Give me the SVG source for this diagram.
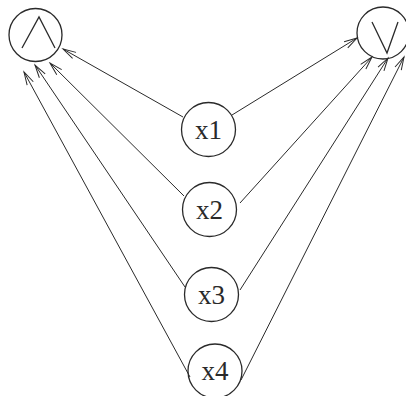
<svg xmlns="http://www.w3.org/2000/svg" width="406" height="396" viewBox="0 0 406 396">
<style>
.node circle{fill:none;stroke:#2a2a2a;stroke-width:1.3}
.sym{fill:none;stroke:#2a2a2a;stroke-width:1.3}
.node text{font-family:"Liberation Serif","Times New Roman",serif;font-size:27px;fill:#2a2a2a;text-anchor:middle}
.edges line{stroke:#2a2a2a;stroke-width:1}
</style>
<defs>
<marker id="arr" markerUnits="userSpaceOnUse" viewBox="-14 -5 16 10" markerWidth="16" markerHeight="10" refX="0" refY="0" orient="auto">
<path d="M-13,-3.5 L0,0 L-13,3.5" fill="none" stroke="#2a2a2a" stroke-width="1"/>
</marker>
</defs>
<rect width="406" height="396" fill="#fff"/>
<g class="edges">
<line x1="183" y1="117" x2="63" y2="49" marker-end="url(#arr)"/>
<line x1="232" y1="115" x2="357" y2="38" marker-end="url(#arr)"/>
<line x1="184" y1="196" x2="50" y2="63" marker-end="url(#arr)"/>
<line x1="240" y1="203" x2="372" y2="57" marker-end="url(#arr)"/>
<line x1="185" y1="287" x2="35" y2="65" marker-end="url(#arr)"/>
<line x1="240" y1="290" x2="388" y2="58" marker-end="url(#arr)"/>
<line x1="190" y1="377" x2="24" y2="72" marker-end="url(#arr)"/>
<line x1="241" y1="380" x2="404" y2="57" marker-end="url(#arr)"/>
</g>
<g id="and" class="node">
<circle cx="35.5" cy="35" r="26.5"/>
<path class="sym" d="M22,48 L39,17 L55,48"/>
</g>
<g id="or" class="node">
<circle cx="383" cy="33" r="26"/>
<path class="sym" d="M372,22 L387,53 L398,22"/>
</g>
<g id="x1" class="node">
<circle cx="208.5" cy="129.5" r="27"/>
<text x="208.5" y="138.5">x1</text>
</g>
<g id="x2" class="node">
<circle cx="209.5" cy="209.5" r="27"/>
<text x="209.5" y="218.5">x2</text>
</g>
<g id="x3" class="node">
<circle cx="211.5" cy="294.5" r="27"/>
<text x="211.5" y="303.5">x3</text>
</g>
<g id="x4" class="node">
<circle cx="215" cy="371" r="27"/>
<text x="215" y="380">x4</text>
</g>
</svg>
